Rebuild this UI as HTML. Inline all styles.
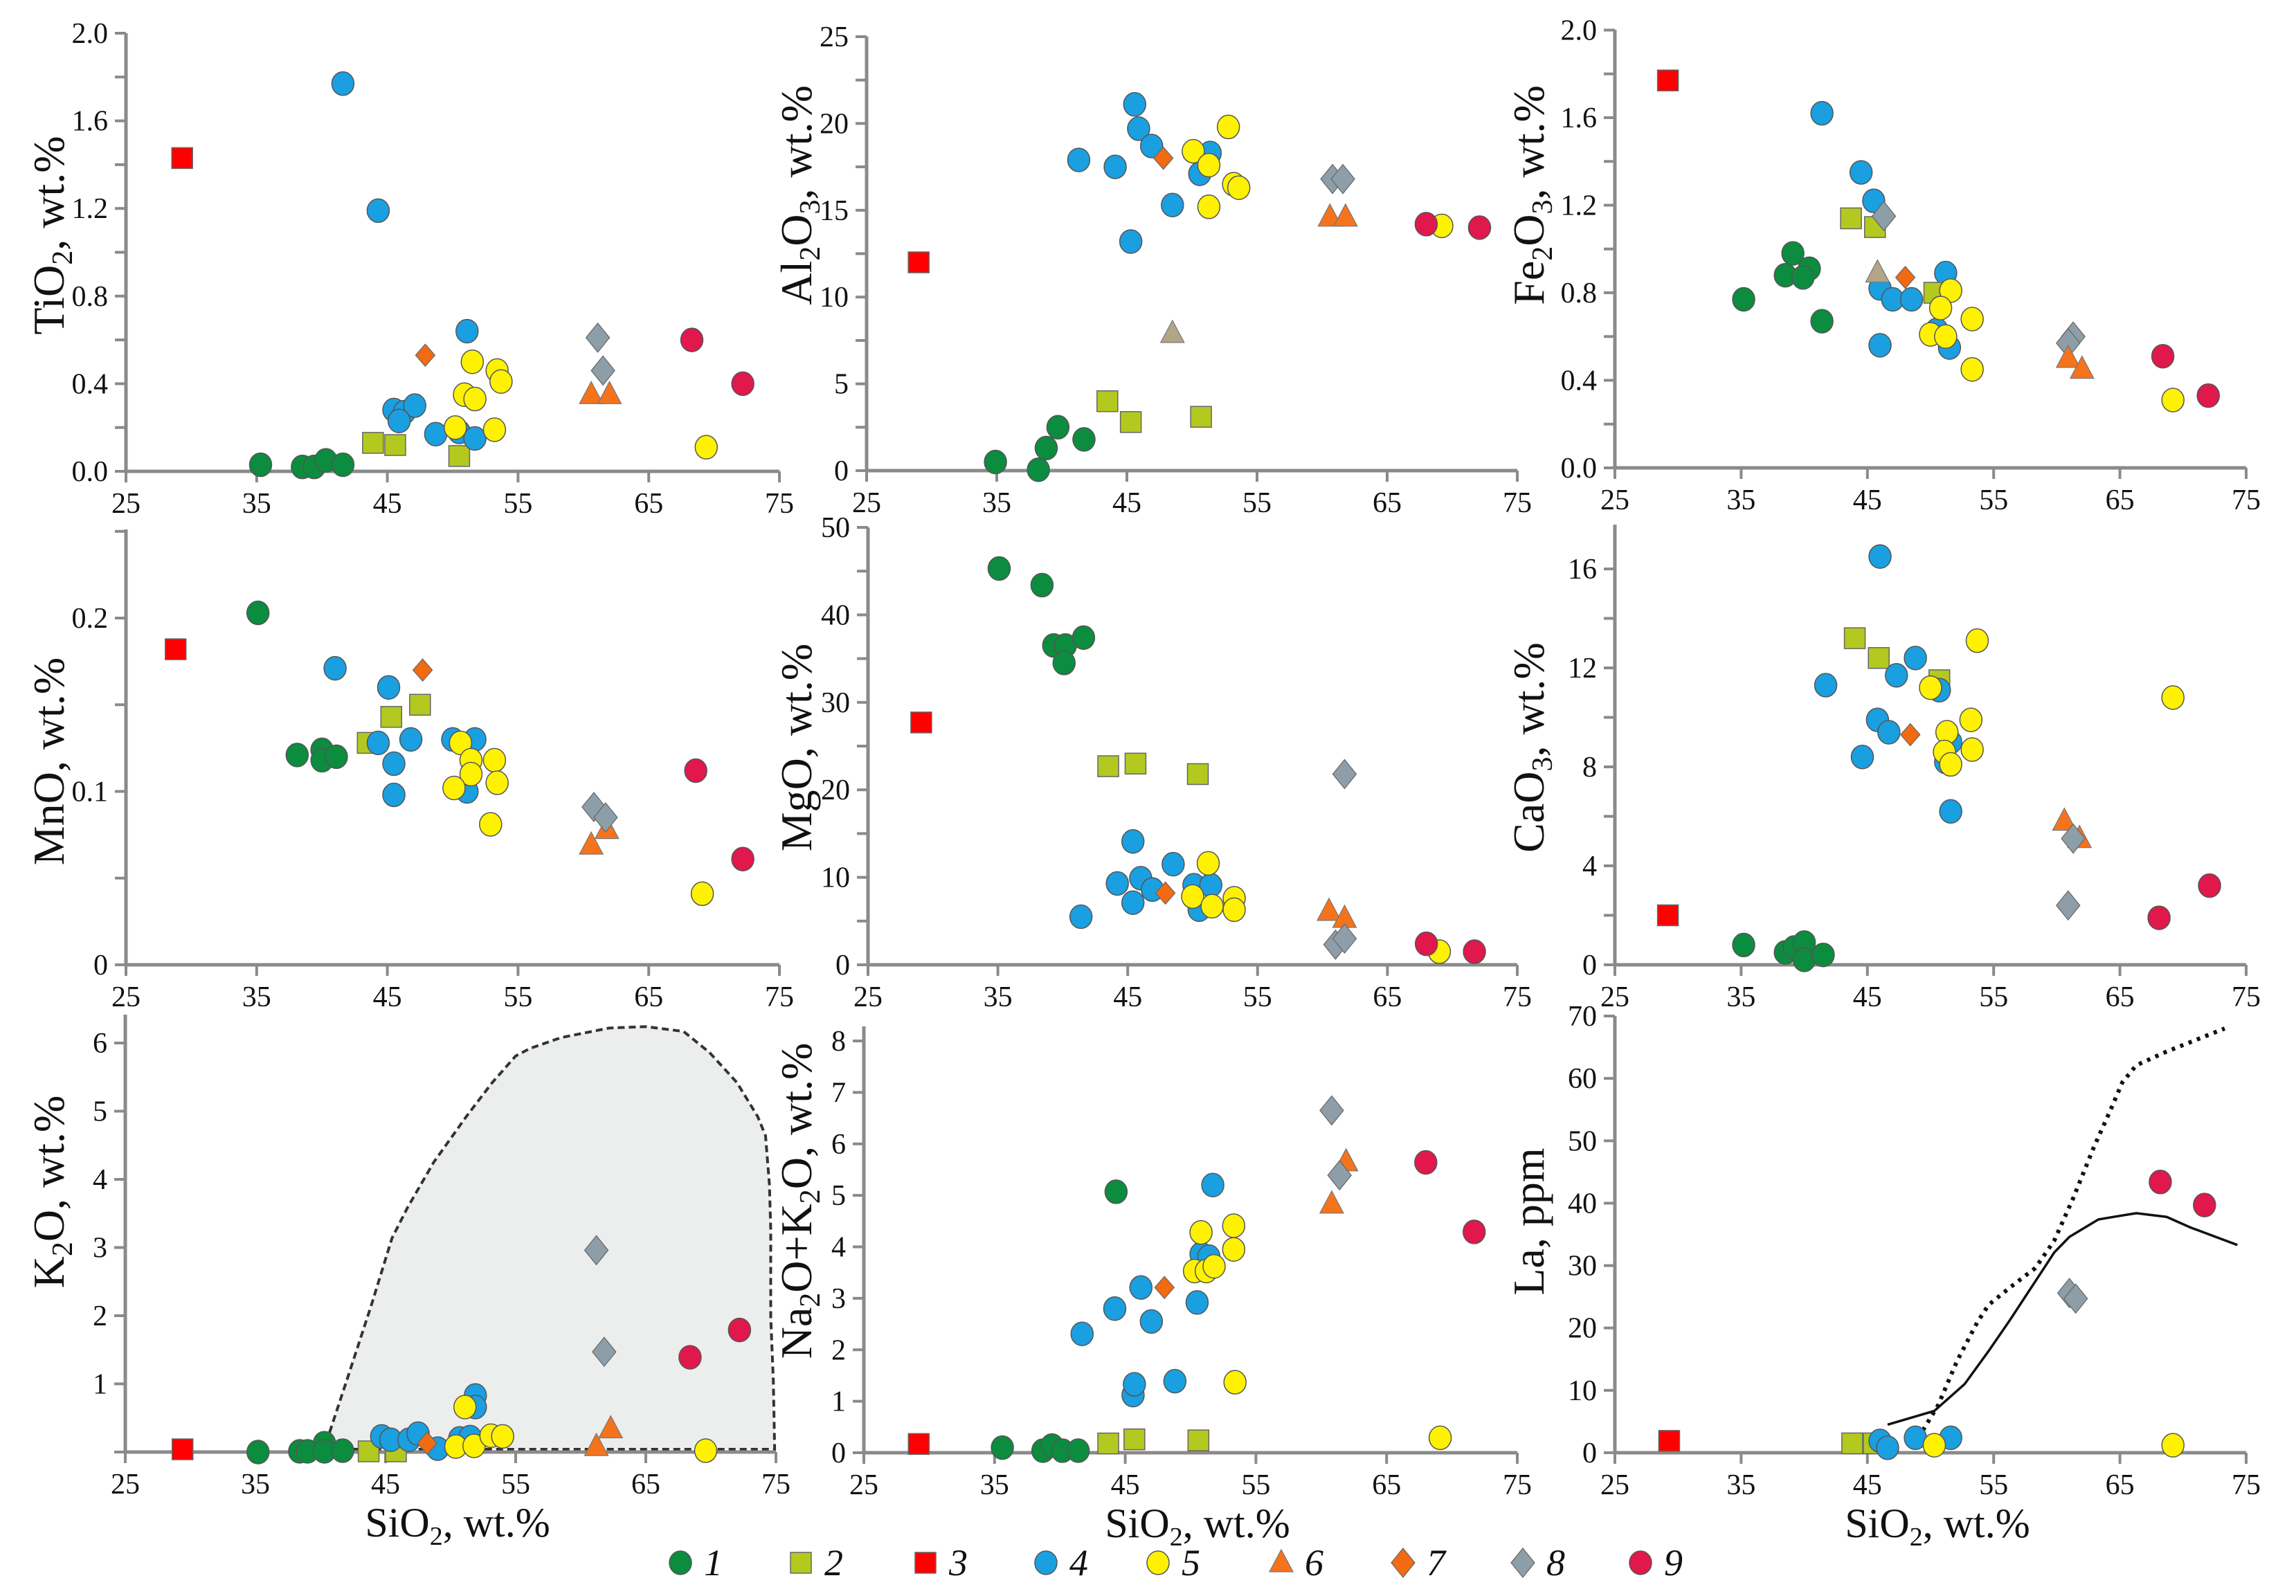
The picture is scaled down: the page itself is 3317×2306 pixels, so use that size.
<!DOCTYPE html>
<html><head><meta charset="utf-8">
<style>
html,body{margin:0;padding:0;background:#fff;}
svg{display:block;font-family:"Liberation Serif",serif;}
</style></head>
<body>
<svg id="fig" xmlns="http://www.w3.org/2000/svg" width="3317" height="2306" viewBox="0 0 3317 2306"></svg>
<script>
// ---------- DATA: [SiO2, value] per group ----------
const tio2_g1=[[35.3,0.03],[38.5,0.02],[39.4,0.02],[40.3,0.05],[41.6,0.03]];
const tio2_g2=[[43.9,0.13],[45.6,0.12],[50.5,0.07]];
const tio2_g3=[[29.3,1.43]];
const tio2_g4=[[41.6,1.77],[44.3,1.19],[51.1,0.64],[45.5,0.28],[46.3,0.27],[47.1,0.30],[45.9,0.23],[48.7,0.17],[50.5,0.18],[51.7,0.15]];
const tio2_g5=[[51.5,0.50],[53.4,0.46],[53.7,0.41],[50.9,0.35],[51.7,0.33],[50.2,0.20],[53.2,0.19],[69.4,0.11]];
const tio2_g6=[[60.6,0.35],[62.0,0.35]];
const tio2_g7=[[47.9,0.53]];
const tio2_g8=[[61.1,0.61],[61.5,0.46]];
const tio2_g9=[[68.3,0.60],[72.2,0.40]];

const al_g1=[[34.9,0.5],[38.2,0.05],[38.8,1.3],[39.7,2.5],[41.7,1.8]];
const al_g2=[[43.5,4.0],[45.3,2.8],[50.7,3.1]];
const al_g3=[[29.0,12.0]];
const al_g4=[[41.3,17.9],[44.1,17.5],[45.6,21.1],[45.9,19.7],[46.9,18.7],[48.5,15.3],[45.3,13.2],[51.4,18.3],[50.6,17.1]];
const al_g5=[[50.1,18.4],[52.8,19.8],[51.3,17.6],[53.2,16.5],[53.6,16.3],[51.3,15.2],[69.2,14.1]];
const al_g6=[[60.6,14.6],[61.8,14.6]];
const al_g7=[[47.8,18.0]];
const al_g8=[[60.8,16.8],[61.6,16.8]];
const al_g9=[[68.0,14.2],[72.1,14.0]];
const al_tan=[[48.5,7.9]];

const fe_g1=[[35.2,0.77],[38.5,0.88],[39.1,0.98],[40.4,0.91],[39.9,0.87],[41.4,0.67]];
const fe_g2=[[43.7,1.14],[45.6,1.10],[50.3,0.80]];
const fe_g3=[[29.2,1.77]];
const fe_g4=[[41.4,1.62],[44.5,1.35],[45.5,1.22],[46.0,0.82],[47.0,0.77],[48.5,0.77],[51.2,0.89],[46.0,0.56],[50.5,0.63],[51.5,0.55]];
const fe_g5=[[51.6,0.81],[50.8,0.73],[50.0,0.61],[51.2,0.60],[53.3,0.68],[53.3,0.45],[69.2,0.31]];
const fe_g6=[[60.9,0.50],[62.0,0.45]];
const fe_g7=[[48.0,0.87]];
const fe_g8=[[46.3,1.15],[61.3,0.60],[60.9,0.57]];
const fe_g9=[[68.4,0.51],[72.0,0.33]];
const fe_tan=[[45.8,0.89]];

const mn_g1=[[35.1,0.203],[38.1,0.121],[40.0,0.124],[40.0,0.118],[41.1,0.12]];
const mn_g2=[[43.5,0.128],[45.3,0.143],[47.5,0.15]];
const mn_g3=[[28.8,0.182]];
const mn_g4=[[41.0,0.171],[45.1,0.16],[44.3,0.128],[46.8,0.13],[45.5,0.116],[45.5,0.098],[50.0,0.13],[51.7,0.13],[51.1,0.1]];
const mn_g5=[[50.6,0.128],[51.4,0.118],[53.2,0.118],[51.4,0.11],[53.4,0.105],[50.1,0.102],[52.9,0.081],[69.1,0.041]];
const mn_g6=[[60.6,0.069],[61.8,0.078]];
const mn_g7=[[47.7,0.17]];
const mn_g8=[[60.8,0.091],[61.7,0.085]];
const mn_g9=[[68.6,0.112],[72.2,0.061]];

const mg_g1=[[35.1,45.3],[38.4,43.4],[39.3,36.5],[40.2,36.5],[40.1,34.5],[41.6,37.4]];
const mg_g2=[[43.5,22.7],[45.6,23.0],[50.4,21.8]];
const mg_g3=[[29.1,27.7]];
const mg_g4=[[45.4,14.1],[44.2,9.3],[45.4,7.1],[41.4,5.5],[46.0,9.9],[46.9,8.6],[48.5,11.5],[50.1,9.1],[51.4,9.1],[50.5,6.3]];
const mg_g5=[[51.2,11.6],[50.0,7.8],[51.5,6.7],[53.2,7.6],[53.2,6.3],[69.0,1.5]];
const mg_g6=[[60.5,6.1],[61.7,5.3]];
const mg_g7=[[47.9,8.2]];
const mg_g8=[[61.7,21.8],[61.0,2.3],[61.7,3.0]];
const mg_g9=[[68.0,2.4],[71.7,1.5]];

const ca_g1=[[35.2,0.8],[38.5,0.5],[39.2,0.7],[40.0,0.9],[40.0,0.2],[41.5,0.4]];
const ca_g2=[[44.0,13.2],[45.9,12.4],[50.7,11.5]];
const ca_g3=[[29.2,2.0]];
const ca_g4=[[46.0,16.5],[41.7,11.3],[47.3,11.7],[48.8,12.4],[50.7,11.1],[45.8,9.9],[46.7,9.4],[44.6,8.4],[51.2,8.2],[51.6,9.0],[51.6,6.2]];
const ca_g5=[[53.7,13.1],[50.0,11.2],[69.2,10.8],[53.2,9.9],[51.3,9.4],[51.1,8.6],[51.6,8.1],[53.3,8.7]];
const ca_g6=[[60.6,5.8],[61.8,5.1]];
const ca_g7=[[48.4,9.3]];
const ca_g8=[[61.3,5.1],[60.9,2.4]];
const ca_g9=[[68.1,1.9],[72.1,3.2]];

const k_g1=[[35.2,0.0],[38.4,0.01],[39.0,0.01],[40.3,0.13],[40.3,0.01],[41.7,0.02]];
const k_g2=[[43.7,0.01],[45.8,0.01]];
const k_g3=[[29.4,0.04]];
const k_g4=[[44.7,0.23],[45.4,0.18],[46.8,0.18],[47.5,0.27],[49.0,0.05],[50.7,0.2],[51.5,0.22],[51.9,0.83],[51.9,0.66]];
const k_g5=[[51.1,0.66],[50.4,0.08],[51.8,0.09],[53.1,0.24],[54.0,0.23],[69.6,0.02]];
const k_g6=[[61.2,0.08],[62.3,0.34]];
const k_g7=[[48.2,0.13]];
const k_g8=[[61.2,2.96],[61.8,1.47]];
const k_g9=[[68.4,1.39],[72.2,1.79]];
const k_field=[[40.7,0.29],[42.0,1.04],[43.9,2.15],[45.5,3.14],[46.7,3.59],[48.7,4.25],[51.2,4.92],[53.2,5.42],[55.0,5.81],[56.1,5.92],[58.5,6.08],[62.2,6.22],[65.0,6.24],[67.9,6.17],[69.9,5.86],[72.0,5.42],[73.6,4.92],[74.2,4.64],[74.5,3.92],[74.6,3.26],[74.6,1.98],[74.8,1.04],[74.9,0.04],[40.7,0.04]];

const na_g1=[[35.6,0.1],[38.7,0.04],[39.4,0.14],[40.2,0.04],[41.4,0.04],[44.3,5.07]];
const na_g2=[[43.7,0.18],[45.7,0.26],[50.6,0.24]];
const na_g3=[[29.2,0.17]];
const na_g4=[[41.7,2.31],[44.2,2.8],[46.2,3.21],[47.0,2.55],[50.5,2.92],[51.7,5.2],[50.8,3.86],[51.4,3.81],[45.6,1.12],[45.7,1.33],[48.8,1.39]];
const na_g5=[[50.8,4.28],[53.3,4.41],[53.3,3.95],[50.3,3.53],[51.2,3.53],[51.8,3.62],[53.4,1.37],[69.1,0.29]];
const na_g6=[[61.9,5.65],[60.8,4.83]];
const na_g7=[[48.0,3.21]];
const na_g8=[[60.8,6.65],[61.4,5.39]];
const na_g9=[[68.0,5.64],[71.7,4.29]];

const la_g2=[[43.8,1.5],[45.5,1.5]];
const la_g3=[[29.3,1.9]];
const la_g4=[[46.0,1.9],[46.6,0.8],[48.8,2.4],[51.6,2.4]];
const la_g5=[[50.3,1.2],[69.2,1.2]];
const la_g8=[[61.0,25.6],[61.5,24.7]];
const la_g9=[[68.2,43.4],[71.7,39.7]];
const la_solid=[[46.6,4.5],[50.3,6.7],[52.7,11.0],[54.6,16.3],[56.3,21.3],[57.5,25.0],[58.7,28.7],[59.8,32.1],[61.0,34.6],[63.3,37.4],[66.3,38.4],[68.7,37.8],[70.6,36.1],[74.3,33.3]];
const la_dotted=[[49.4,3.6],[50.6,7.6],[52.1,14.7],[53.7,20.9],[54.6,23.7],[56.3,26.5],[58.3,29.6],[59.8,34.0],[61.3,40.8],[62.9,48.8],[64.4,55.6],[65.2,59.4],[66.3,62.1],[68.7,64.3],[73.3,68.0]];

const xTicks=[25,35,45,55,65,75];
const tio2Labels=["0.0","0.4","0.8","1.2","1.6","2.0"];
const alLabels=["0","5","10","15","20","25"];
const feLabels=["0.0","0.4","0.8","1.2","1.6","2.0"];
const mnLabels=["0","0.1","0.2"];
const mgLabels=["0","10","20","30","40","50"];
const caLabels=["0","4","8","12","16"];
const kLabels=["1","2","3","4","5","6"];
const naLabels=["0","1","2","3","4","5","6","7","8"];
const laLabels=["0","10","20","30","40","50","60","70"];
const legendLabels=["1","2","3","4","5","6","7","8","9"];

// ---------- RENDER ----------
const NS="http://www.w3.org/2000/svg";
const svg=document.getElementById('fig');
function mk(tag,attrs,parent){const e=document.createElementNS(NS,tag);for(const k in attrs)e.setAttribute(k,attrs[k]);(parent||svg).appendChild(e);return e;}

const STY={
 g1:{shape:'circle',fill:'#0b8c3e'},g2:{shape:'square',fill:'#b3c91f'},g3:{shape:'square',fill:'#ff0000'},
 g4:{shape:'circle',fill:'#1a9fe0'},g5:{shape:'circle',fill:'#fff200'},g6:{shape:'triangle',fill:'#f5731c'},
 g7:{shape:'diamond',fill:'#f26a12',small:true},g8:{shape:'diamond',fill:'#8e9ea8'},g9:{shape:'circle',fill:'#e0184b'},
 tan:{shape:'triangle',fill:'#b3a585'}
};
function marker(parent,shape,fill,cx,cy,small){
 let e;
 if(shape==='circle'){e=mk('ellipse',{cx:cx,cy:cy,rx:16,ry:17,fill:fill,stroke:'#555',"stroke-width":1.5},parent);}
 else if(shape==='square'){e=mk('rect',{x:cx-15,y:cy-15,width:30,height:30,fill:fill,stroke:'#666',"stroke-width":1.5},parent);}
 else if(shape==='triangle'){e=mk('polygon',{points:`${cx},${cy-19} ${cx+17},${cy+13} ${cx-17},${cy+13}`,fill:fill,stroke:'#777',"stroke-width":1.2},parent);}
 else {const w=small?14:17,h=small?16:21;e=mk('polygon',{points:`${cx},${cy-h} ${cx+w},${cy} ${cx},${cy+h} ${cx-w},${cy}`,fill:fill,stroke:'#666',"stroke-width":1.2},parent);}
 return e;
}

function panel(cfg){
 const g=mk('g',{});
 
 
 const X=v=>cfg.xL+(v-25)*(cfg.xR-cfg.xL)/50;
 const Y=v=>cfg.y0-(v-cfg.vmin)*cfg.ppu;
 if(cfg.field){
  const f=mk('polygon',{points:cfg.field.map(p=>X(p[0])+','+Y(p[1])).join(' '),fill:'#eceeee',stroke:'#333',"stroke-width":4,"stroke-dasharray":"10 6"},g);
  
  
 }
 const ax=mk('line',{x1:cfg.xL,y1:cfg.y0,x2:cfg.xR,y2:cfg.y0,stroke:'#8a8a8a',"stroke-width":5},g);
 
 
 const ay=mk('line',{x1:cfg.xL,y1:cfg.y0+2,x2:cfg.xL,y2:cfg.top,stroke:'#8a8a8a',"stroke-width":5},g);
 
 
 xTicks.forEach(t=>{
  mk('line',{x1:X(t),y1:cfg.y0,x2:X(t),y2:cfg.y0+16,stroke:'#8a8a8a',"stroke-width":4},g);
  const tl=mk('text',{x:X(t),y:cfg.y0+60,"font-size":42,"text-anchor":"middle",fill:'#111'},g);
  tl.textContent=t;
  
  
 });
 for(let v=cfg.vmin;v<=cfg.vmax+1e-9;v+=cfg.minor){
  mk('line',{x1:cfg.xL-16,y1:Y(v),x2:cfg.xL,y2:Y(v),stroke:'#8a8a8a',"stroke-width":4},g);
 }
 cfg.labels.forEach((s,i)=>{
  const v=cfg.labelStart+i*cfg.labelStep;
  const tl=mk('text',{x:cfg.xL-26,y:Y(v)+14,"font-size":42,"text-anchor":"end",fill:'#111'},g);
  tl.textContent=s;
  
  
 });
 const yt=mk('text',{transform:`translate(${cfg.tx},${cfg.ty}) rotate(-90)`,"font-size":64,"text-anchor":"middle",fill:'#111'},g);
 yt.innerHTML=cfg.title;
 
 
 if(cfg.xtitle){
  const xt=mk('text',{x:(cfg.xL+cfg.xR)/2+10,y:cfg.y0+122,"font-size":60,"text-anchor":"middle",fill:'#111'},g);
  xt.innerHTML='SiO<tspan font-size="38" dy="12">2</tspan><tspan dy="-12">, wt.%</tspan>';
  
  
 }
 (cfg.lines||[]).forEach(L=>{
  const p=mk('polyline',{points:L.data.map(q=>X(q[0])+','+Y(q[1])).join(' '),fill:'none',stroke:'#111',"stroke-width":L.dotted?6:3.5,"stroke-dasharray":L.dotted?"5 8":"none"},g);
  
  
 });
 cfg.series.forEach(s=>{
  const st=STY[s.g];
  s.data.forEach(p=>{
   const m=marker(g,st.shape,st.fill,X(p[0]),Y(p[1]),st.small);
   
   
  });
 });
}
const sub=(a,b,c)=>`${a}<tspan font-size="42" dy="12">${b}</tspan><tspan dy="-12">${c}</tspan>`;
function S(prefix,list){return list.map(g=>({g:g[0],data:g[1]}));}

panel({name:'tio2',xL:182,xR:1126,y0:681,top:48,vmin:0,vmax:2,ppu:(681-48)/2,minor:0.2,labels:tio2Labels,labelStart:0,labelStep:0.4,tx:92,ty:340,title:sub('TiO','2',', wt.%'),
 series:S('',[['g1',tio2_g1],['g2',tio2_g2],['g3',tio2_g3],['g4',tio2_g4],['g5',tio2_g5],['g6',tio2_g6],['g7',tio2_g7],['g8',tio2_g8],['g9',tio2_g9]])});
panel({name:'al2o3',xL:1252,xR:2192,y0:680,top:53,vmin:0,vmax:25,ppu:(680-53)/25,minor:2.5,labels:alLabels,labelStart:0,labelStep:5,tx:1172,ty:282,title:'Al<tspan font-size="42" dy="12">2</tspan><tspan dy="-12">O</tspan><tspan font-size="42" dy="12">3</tspan><tspan dy="-12">, wt.%</tspan>',
 series:S('',[['g1',al_g1],['g2',al_g2],['g3',al_g3],['tan',al_tan],['g4',al_g4],['g5',al_g5],['g6',al_g6],['g7',al_g7],['g8',al_g8],['g9',al_g9]])});
panel({name:'fe2o3',xL:2333,xR:3245,y0:676,top:43,vmin:0,vmax:2,ppu:(676-43.5)/2,minor:0.2,labels:feLabels,labelStart:0,labelStep:0.4,tx:2230,ty:282,title:'Fe<tspan font-size="42" dy="12">2</tspan><tspan dy="-12">O</tspan><tspan font-size="42" dy="12">3</tspan><tspan dy="-12">, wt.%</tspan>',
 series:S('',[['g1',fe_g1],['g4',fe_g4],['g2',fe_g2],['g8',fe_g8],['tan',fe_tan],['g7',fe_g7],['g5',fe_g5],['g6',fe_g6],['g9',fe_g9],['g3',fe_g3]])});
panel({name:'mno',xL:182,xR:1126,y0:1394,top:765,vmin:0,vmax:0.25,ppu:2505,minor:0.05,labels:mnLabels,labelStart:0,labelStep:0.1,tx:92,ty:1100,title:'MnO, wt.%',
 series:S('',[['g1',mn_g1],['g2',mn_g2],['g3',mn_g3],['g4',mn_g4],['g5',mn_g5],['g6',mn_g6],['g7',mn_g7],['g8',mn_g8],['g9',mn_g9]])});
panel({name:'mgo',xL:1254,xR:2192,y0:1394,top:762,vmin:0,vmax:50,ppu:(1394-762)/50,minor:5,labels:mgLabels,labelStart:0,labelStep:10,tx:1172,ty:1080,title:'MgO, wt.%',
 series:S('',[['g1',mg_g1],['g2',mg_g2],['g3',mg_g3],['g4',mg_g4],['g5',mg_g5],['g6',mg_g6],['g7',mg_g7],['g8',mg_g8],['g9',mg_g9]])});
panel({name:'cao',xL:2333,xR:3245,y0:1394,top:758,vmin:0,vmax:17.8,ppu:(1394-822)/16,minor:2,labels:caLabels,labelStart:0,labelStep:4,tx:2230,ty:1080,title:'CaO<tspan font-size="42" dy="12">3</tspan><tspan dy="-12">, wt.%</tspan>',
 series:S('',[['g1',ca_g1],['g2',ca_g2],['g3',ca_g3],['g4',ca_g4],['g5',ca_g5],['g6',ca_g6],['g7',ca_g7],['g8',ca_g8],['g9',ca_g9]])});
panel({name:'k2o',xL:181,xR:1121,y0:2098,top:1466,vmin:0,vmax:6.4,ppu:(2098-1507)/6,minor:1,labels:kLabels,labelStart:1,labelStep:1,tx:92,ty:1722,title:sub('K','2','O, wt.%'),xtitle:true,field:k_field,
 series:S('',[['g1',k_g1],['g2',k_g2],['g3',k_g3],['g4',k_g4],['g7',k_g7],['g5',k_g5],['g6',k_g6],['g8',k_g8],['g9',k_g9]])});
panel({name:'na2o-k2o',xL:1248,xR:2192,y0:2099,top:1483,vmin:0,vmax:8.2,ppu:(2099-1504)/8,minor:1,labels:naLabels,labelStart:0,labelStep:1,tx:1172,ty:1735,title:'Na<tspan font-size="42" dy="12">2</tspan><tspan dy="-12">O+K</tspan><tspan font-size="42" dy="12">2</tspan><tspan dy="-12">O, wt.%</tspan>',xtitle:true,
 series:S('',[['g1',na_g1],['g2',na_g2],['g3',na_g3],['g4',na_g4],['g5',na_g5],['g6',na_g6],['g7',na_g7],['g8',na_g8],['g9',na_g9]])});
panel({name:'la',xL:2333,xR:3245,y0:2099,top:1468,vmin:0,vmax:70,ppu:(2099-1468)/70,minor:10,labels:laLabels,labelStart:0,labelStep:10,tx:2230,ty:1765,title:'La, ppm',xtitle:true,
 lines:[{name:'la-solid-trend',data:la_solid},{name:'la-dotted-trend',data:la_dotted,dotted:true}],
 series:S('',[['g2',la_g2],['g3',la_g3],['g4',la_g4],['g5',la_g5],['g8',la_g8],['g9',la_g9]])});

const lg=mk('g',{});


const legX=[983,1157,1337,1511,1673,1851,2027,2200,2370];
const legG=['g1','g2','g3','g4','g5','g6','g7','g8','g9'];
legendLabels.forEach((s,i)=>{
 const st=STY[legG[i]];
 const m=marker(lg,st.shape,st.fill,legX[i],2258,false);
 
 
 const t=mk('text',{x:legX[i]+34,y:2276,"font-size":54,"font-style":"italic",fill:'#111'},lg);
 t.textContent=s;
 
 
});
</script>
</body></html>
